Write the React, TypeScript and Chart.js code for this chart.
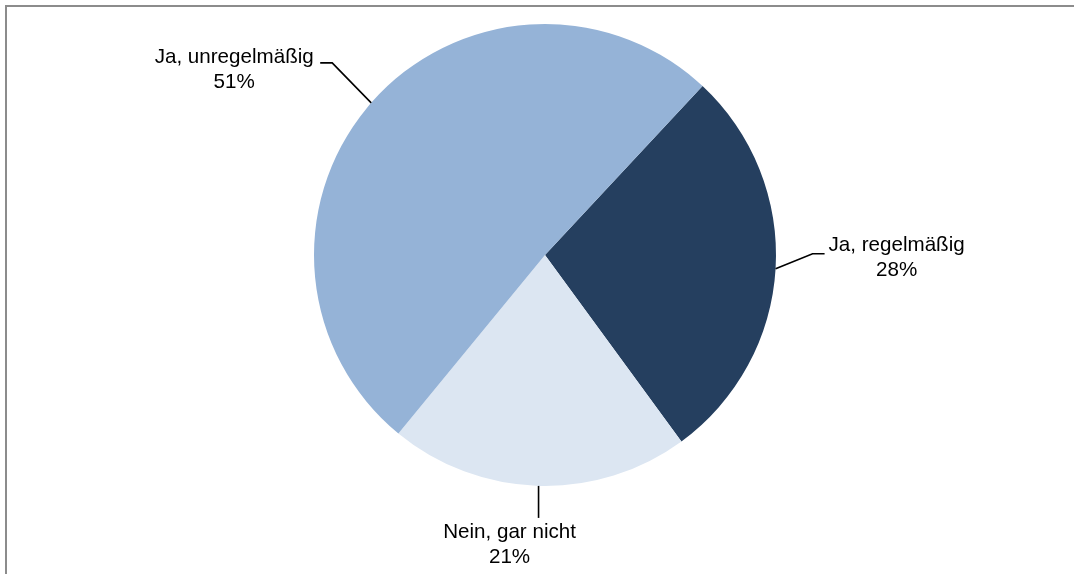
import React, { useEffect, useRef } from "react";
import { Chart, registerables } from "chart.js";

Chart.register(...registerables);

const categories = ["Ja, regelmäßig", "Nein, gar nicht", "Ja, unregelmäßig"];
const values = [28, 21, 51];
const percentLabels = ["28%", "21%", "51%"];
const sliceColors = ["#253F5F", "#DCE6F2", "#95B3D7"];

// leader/label offsets relative to the slice's outer-edge mid point (style only)
const labelLayout = [
  { elbow: [37, -15], end: [49, -15], text: [121, -23] },
  { elbow: [0, 16], end: [0, 32], text: [-29, 46] },
  { elbow: [-39, -40], end: [-51, -40], text: [-137, -46] },
];

const labelPlugin = {
  id: "pieLabels",
  afterDatasetsDraw(chart: any) {
    const ctx = chart.ctx;
    const meta = chart.getDatasetMeta(0);
    ctx.save();
    ctx.font = "20.6px 'Liberation Sans', Arial, sans-serif";
    ctx.fillStyle = "#000";
    ctx.strokeStyle = "#000";
    ctx.lineWidth = 1.6;
    ctx.textAlign = "center";
    ctx.textBaseline = "middle";
    meta.data.forEach((arc: any, i: number) => {
      const mid = (arc.startAngle + arc.endAngle) / 2;
      const ex = arc.x + Math.cos(mid) * arc.outerRadius;
      const ey = arc.y + Math.sin(mid) * arc.outerRadius;
      const L = labelLayout[i];
      ctx.beginPath();
      ctx.moveTo(ex, ey);
      ctx.lineTo(ex + L.elbow[0], ey + L.elbow[1]);
      ctx.lineTo(ex + L.end[0], ey + L.end[1]);
      ctx.stroke();
      const tx = ex + L.text[0];
      const ty = ey + L.text[1];
      ctx.fillText(categories[i], tx, ty);
      ctx.fillText(percentLabels[i], tx, ty + 25);
    });
    ctx.restore();
  },
};

const frameBorderPlugin = {
  id: "frameBorder",
  beforeDraw(chart: any) {
    const ctx = chart.ctx;
    ctx.save();
    ctx.fillStyle = "#fff";
    ctx.fillRect(0, 0, chart.width, chart.height);
    ctx.strokeStyle = "#8c8c8c";
    ctx.lineWidth = 2;
    ctx.strokeRect(6, 6, chart.width + 20, chart.height + 20);
    ctx.restore();
  },
};

export default function App() {
  const canvasRef = useRef<HTMLCanvasElement | null>(null);

  useEffect(() => {
    if (!canvasRef.current) return;
    const chart = new Chart(canvasRef.current, {
      type: "pie",
      data: {
        labels: categories,
        datasets: [
          {
            data: values,
            backgroundColor: sliceColors,
            borderWidth: 0,
          },
        ],
      },
      options: {
        animation: false,
        responsive: false,
        rotation: 43,
        layout: { padding: { left: 314, right: 298, top: 24, bottom: 88 } },
        plugins: {
          legend: { display: false },
          tooltip: { enabled: false },
        },
      },
      plugins: [frameBorderPlugin, labelPlugin],
    });
    return () => chart.destroy();
  }, []);

  return (
    <div style={{ position: "fixed", left: 0, top: 0, width: 1074, height: 574, background: "#fff" }}>
      <canvas ref={canvasRef} width={1074} height={574} style={{ display: "block" }} />
    </div>
  );
}
